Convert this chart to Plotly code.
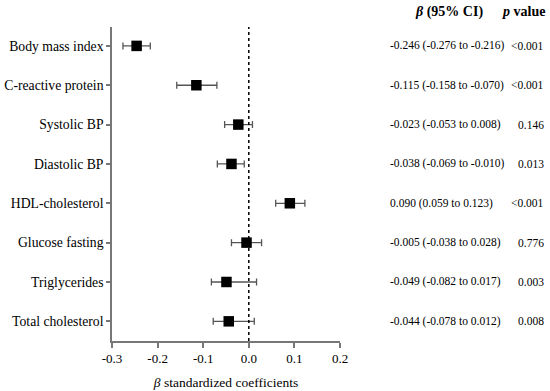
import plotly.graph_objects as go

categories = ["Body mass index", "C-reactive protein", "Systolic BP", "Diastolic BP",
              "HDL-cholesterol", "Glucose fasting", "Triglycerides", "Total cholesterol"]
beta = [-0.246, -0.115, -0.023, -0.038, 0.090, -0.005, -0.049, -0.044]
ci_low = [-0.276, -0.158, -0.053, -0.069, 0.059, -0.038, -0.082, -0.078]
ci_high = [-0.216, -0.070, 0.008, -0.010, 0.123, 0.028, 0.017, 0.012]
p_values = ["<0.001", "<0.001", "0.146", "0.013", "<0.001", "0.776", "0.003", "0.008"]
x_ticks = [-0.3, -0.2, -0.1, 0.0, 0.1, 0.2]
x_tick_labels = ["-0.3", "-0.2", "-0.1", "0.0", "0.1", "0.2"]

FONT = "Liberation Serif"
ypos = list(range(len(categories)))

fig = go.Figure()
fig.add_trace(go.Scatter(
    x=beta, y=ypos, mode="markers",
    marker=dict(symbol="square", size=10.5, color="black"),
    error_x=dict(type="data", symmetric=False,
                 array=[h - b for h, b in zip(ci_high, beta)],
                 arrayminus=[b - l for b, l in zip(beta, ci_low)],
                 color="#555", thickness=1.3, width=3.5),
    showlegend=False, hoverinfo="skip"))

fig.add_shape(type="line", xref="x", yref="paper", x0=0, x1=0, y0=0, y1=1,
              line=dict(color="black", width=1.5, dash="dot"))

W, H = 550, 391
L, R, T, B = 112, 210, 27, 50
pw = W - L - R
ph = H - T - B

def px(xw):
    return (xw - L) / pw

def py(yw):
    return 1 + (T - yw) / ph

for i, (b, lo, hi, p) in enumerate(zip(beta, ci_low, ci_high, p_values)):
    txt = f"{b:.3f} ({lo:.3f} to {hi:.3f})"
    fig.add_annotation(x=px(388), y=i, xref="paper", yref="y", text=txt,
                       showarrow=False, xanchor="left", yanchor="middle",
                       font=dict(family=FONT, size=11.5, color="black"))
    fig.add_annotation(x=px(546), y=i, xref="paper", yref="y", text=p,
                       showarrow=False, xanchor="right", yanchor="middle",
                       font=dict(family=FONT, size=11.5, color="black"))

fig.add_annotation(x=px(449), y=py(12), xref="paper", yref="paper",
                   text="<b><i>β</i> (95% CI)</b>", showarrow=False,
                   xanchor="center", yanchor="middle",
                   font=dict(family=FONT, size=14, color="black"))
fig.add_annotation(x=px(523), y=py(12), xref="paper", yref="paper",
                   text="<b><i>p</i> value</b>", showarrow=False,
                   xanchor="center", yanchor="middle",
                   font=dict(family=FONT, size=14, color="black"))

fig.update_layout(
    template="none",
    width=W, height=H,
    margin=dict(l=L, r=R, t=T, b=B, autoexpand=False),
    plot_bgcolor="white", paper_bgcolor="white",
    font=dict(family=FONT, size=13, color="black"),
    xaxis=dict(range=[-0.3, 0.2], tickvals=x_ticks, ticktext=x_tick_labels,
               automargin=False,
               showgrid=False, zeroline=False, showline=True, linecolor="#777",
               linewidth=1.5, ticks="outside", ticklen=5, tickcolor="#777",
               tickwidth=1.5, tickfont=dict(family=FONT, size=13, color="black"),
               title=dict(text="<i>β</i> standardized coefficients", standoff=12,
                          font=dict(family=FONT, size=13.5, color="black"))),
    yaxis=dict(range=[7.5, -0.48], tickvals=ypos, ticktext=categories,
               automargin=False,
               showgrid=False, zeroline=False, showline=True, linecolor="#777",
               linewidth=1.5, ticks="outside", ticklen=4, tickcolor="#777",
               tickwidth=1.5, tickfont=dict(family=FONT, size=13.7, color="black")),
)

fig.write_html("out.html", config={"displayModeBar": False},
               post_script="document.body.style.margin='0';document.body.style.overflow='hidden';")
